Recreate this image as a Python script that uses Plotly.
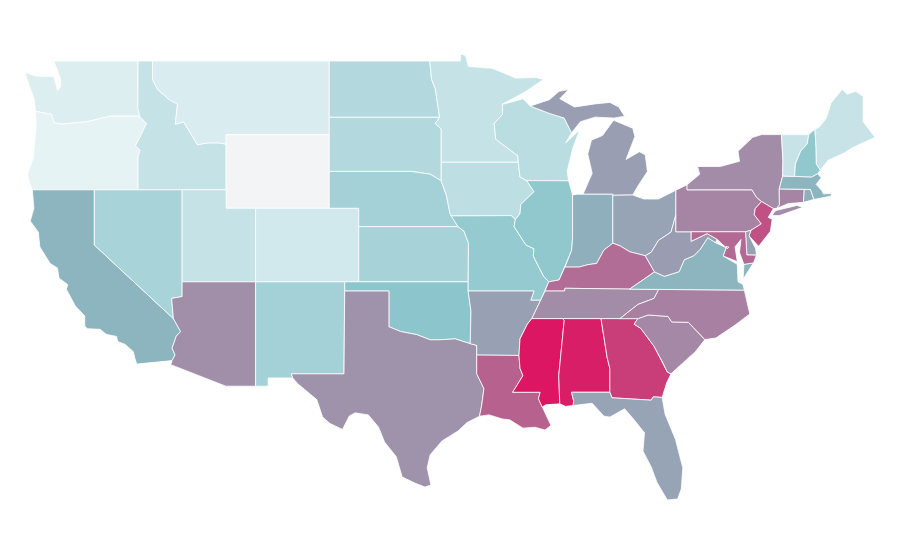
import plotly.graph_objects as go
from plotly.colors import sample_colorscale

# state values, estimated from the fill colours in the picture
states = ["WA", "OR", "CA", "ID", "NV", "MT", "WY", "UT", "AZ", "CO", "NM", "ND", "SD", "NE", "KS", "OK", "TX",
          "MN", "IA", "MO", "AR", "LA", "WI", "IL", "MI", "IN", "OH", "KY", "TN", "MS", "AL", "GA", "FL",
          "SC", "NC", "VA", "WV", "PA", "NY", "NJ", "DE", "MD", "DC", "CT", "RI", "MA", "VT", "NH", "ME"]
values = [0.09, 0.05, 0.50, 0.18, 0.29, 0.10, 0.0, 0.18, 0.69, 0.13, 0.31, 0.25, 0.25, 0.31, 0.30, 0.40, 0.67,
          0.18, 0.21, 0.36, 0.60, 0.81, 0.22, 0.38, 0.61, 0.53, 0.58, 0.78, 0.70, 1.0, 0.98, 0.90, 0.58,
          0.71, 0.73, 0.50, 0.62, 0.72, 0.70, 0.85, 0.60, 0.79, 0.60, 0.72, 0.53, 0.50, 0.17, 0.38, 0.17]

scale = [[0, "#f3f4f6"], [0.05, "#e6f3f5"], [0.4, "#8cc5cc"], [0.5, "#8cb5c0"],
         [0.6, "#98a0b3"], [0.7, "#a28ca8"], [1, "#dc1662"]]

# rough state outlines as lon, lat pairs, typed by hand (no map files without network)
outlines = {
    "WA": [[(-124.7,48.38),(-123.9,48.17),(-122.75,48.15),(-122.5,47.4),(-122.3,47.6),(-122.3,48.0),(-122.5,48.5),(-122.76,49),(-117.03,49),(-117.04,46.42),(-116.92,46),(-118.98,46),(-119.3,45.93),(-120.5,45.7),(-121.2,45.65),(-122.2,45.57),(-122.75,45.65),(-122.9,46.1),(-123.3,46.15),(-124,46.27),(-124.05,46.7),(-124.1,47),(-124.4,47.6)]],
    "OR": [[(-124,46.27),(-123.3,46.15),(-122.9,46.1),(-122.75,45.65),(-122.2,45.57),(-121.2,45.65),(-120.5,45.7),(-119.3,45.93),(-118.98,46),(-116.92,46),(-116.46,45.6),(-116.85,44.95),(-117.2,44.4),(-116.9,44.15),(-117.03,43.8),(-117.03,42),(-124.21,42),(-124.4,42.4),(-124.55,42.84),(-124.15,43.7),(-124.05,44.7),(-123.95,45.5)]],
    "CA": [[(-124.21,42),(-120,42),(-120,39),(-114.63,35),(-114.14,34.3),(-114.43,34.05),(-114.72,33.4),(-114.52,33.03),(-114.72,32.72),(-117.12,32.53),(-117.25,32.85),(-117.35,33.2),(-117.9,33.6),(-118.4,33.75),(-118.5,34.03),(-119.2,34.15),(-119.6,34.42),(-120.47,34.45),(-120.65,34.6),(-120.65,35.15),(-121.3,35.7),(-121.9,36.6),(-121.8,36.85),(-122.4,37.2),(-122.5,37.75),(-123,38),(-123.7,38.9),(-123.8,39.7),(-124.35,40.3),(-124.1,41)]],
    "ID": [[(-117.03,49),(-116.05,49),(-116.05,48),(-115.7,47.45),(-114.9,46.9),(-114.35,46.65),(-114.5,45.56),(-113.95,45.7),(-113.45,45.05),(-113,44.45),(-112.3,44.55),(-111.5,44.55),(-111.05,44.48),(-111.05,42),(-117.03,42),(-117.03,43.8),(-116.9,44.15),(-117.2,44.4),(-116.85,44.95),(-116.46,45.6),(-116.92,46),(-117.04,46.42)]],
    "NV": [[(-120,42),(-114.04,42),(-114.04,36.2),(-114.75,36.1),(-114.63,35),(-120,39)]],
    "MT": [[(-116.05,49),(-104.05,49),(-104.05,45),(-111.05,45),(-111.05,44.48),(-111.5,44.55),(-112.3,44.55),(-113,44.45),(-113.45,45.05),(-113.95,45.7),(-114.5,45.56),(-114.35,46.65),(-114.9,46.9),(-115.7,47.45),(-116.05,48)]],
    "WY": [[(-111.05,45),(-104.05,45),(-104.05,41),(-111.05,41)]],
    "UT": [[(-114.04,42),(-111.05,42),(-111.05,41),(-109.05,41),(-109.05,37),(-114.04,37)]],
    "AZ": [[(-114.04,37),(-109.05,37),(-109.05,31.33),(-111.07,31.33),(-114.81,32.5),(-114.72,32.72),(-114.52,33.03),(-114.72,33.4),(-114.43,34.05),(-114.14,34.3),(-114.63,35),(-114.75,36.1),(-114.04,36.2)]],
    "CO": [[(-109.05,41),(-102.05,41),(-102.05,37),(-109.05,37)]],
    "NM": [[(-109.05,37),(-103,37),(-103.05,32),(-106.62,32),(-106.53,31.78),(-108.2,31.78),(-108.2,31.33),(-109.05,31.33)]],
    "ND": [[(-104.05,49),(-97.23,49),(-97.1,48),(-96.85,47.5),(-96.56,45.94),(-104.05,45.94)]],
    "SD": [[(-104.05,45.94),(-96.56,45.94),(-96.85,45.6),(-96.45,45.3),(-96.45,43.5),(-96.45,42.49),(-97.2,42.85),(-98.5,43),(-104.05,43)]],
    "NE": [[(-104.05,43),(-98.5,43),(-97.2,42.85),(-96.45,42.49),(-96.1,41.7),(-95.85,40.7),(-95.31,40),(-102.05,40),(-102.05,41),(-104.05,41)]],
    "KS": [[(-102.05,40),(-95.31,40),(-94.9,39.75),(-94.6,39.1),(-94.62,37),(-102.05,37)]],
    "OK": [[(-103,37),(-94.62,37),(-94.62,36.5),(-94.43,35.4),(-94.48,33.64),(-95.5,33.9),(-96.6,33.85),(-97.2,33.85),(-98.1,34.13),(-99.2,34.3),(-100,34.56),(-100,36.5),(-103,36.5)]],
    "TX": [[(-103,36.5),(-100,36.5),(-100,34.56),(-99.2,34.3),(-98.1,34.13),(-97.2,33.85),(-96.6,33.85),(-95.5,33.9),(-94.48,33.64),(-94.04,33.55),(-94.04,32),(-93.55,31.2),(-93.7,30.3),(-93.85,29.7),(-94.7,29.35),(-95.3,28.9),(-96.4,28.35),(-97.2,27.6),(-97.4,26.9),(-97.15,25.96),(-97.55,25.85),(-98.2,26.05),(-99.1,26.4),(-99.5,27.5),(-100.3,28.3),(-100.7,29.1),(-101.4,29.77),(-102.3,29.88),(-102.7,29.7),(-103.15,28.98),(-104,29.3),(-104.5,29.65),(-104.9,30.6),(-106.2,31.47),(-106.53,31.78),(-106.62,32),(-103.05,32)]],
    "MN": [[(-97.23,49),(-95.15,49),(-95.15,49.38),(-94.8,49.3),(-94.6,48.7),(-93,48.6),(-92.2,48.35),(-91.4,48.07),(-90,48.1),(-89.5,48),(-90.8,47.3),(-92.05,46.75),(-92.3,46.65),(-92.29,46.1),(-92.85,45.6),(-92.75,44.75),(-91.25,43.85),(-91.22,43.5),(-96.45,43.5),(-96.45,45.3),(-96.85,45.6),(-96.56,45.94),(-96.85,47.5),(-97.1,48)]],
    "IA": [[(-96.45,43.5),(-91.22,43.5),(-91.1,42.7),(-90.65,42.5),(-90.15,41.9),(-91.05,41.2),(-91.1,40.7),(-91.42,40.38),(-91.7,40.6),(-95.77,40.58),(-95.85,40.7),(-96.1,41.7),(-96.45,42.49)]],
    "MO": [[(-95.77,40.58),(-91.7,40.6),(-91.42,40.38),(-91.5,40),(-90.7,39),(-90.15,38.8),(-90.2,38.4),(-89.5,37.3),(-89.15,37),(-89.4,36.5),(-89.7,36),(-90.37,36),(-90.15,36.5),(-94.62,36.5),(-94.62,37),(-94.6,39.1),(-94.9,39.75),(-95.31,40)]],
    "AR": [[(-94.62,36.5),(-90.15,36.5),(-90.37,36),(-89.7,36),(-90.3,35),(-90.6,34.7),(-91.1,33.9),(-91.17,33),(-94.04,33.02),(-94.04,33.55),(-94.48,33.64),(-94.43,35.4)]],
    "LA": [[(-94.04,33.02),(-91.17,33),(-91.1,32.3),(-90.9,31.9),(-91.6,31),(-89.73,31),(-89.85,30.65),(-89.6,30.2),(-89.4,29.9),(-89,29.2),(-89.4,28.95),(-90.1,29.1),(-90.9,29.05),(-91.8,29.5),(-92.3,29.55),(-93.2,29.77),(-93.85,29.7),(-93.7,30.3),(-93.55,31.2),(-94.04,32)]],
    "WI": [[(-92.3,46.65),(-92,46.7),(-90.9,46.95),(-90.4,46.55),(-89.1,46.15),(-88.1,45.9),(-87.6,45.1),(-88,44.55),(-87.05,45.25),(-87.5,44.3),(-87.9,43),(-87.8,42.49),(-90.65,42.5),(-91.1,42.7),(-91.22,43.5),(-91.25,43.85),(-92.75,44.75),(-92.85,45.6),(-92.29,46.1)]],
    "IL": [[(-90.65,42.5),(-87.8,42.49),(-87.53,41.72),(-87.53,39.35),(-87.6,38.7),(-88.05,37.8),(-88.45,37.1),(-89.15,37),(-89.5,37.3),(-90.2,38.4),(-90.15,38.8),(-90.7,39),(-91.5,40),(-91.42,40.38),(-91.1,40.7),(-91.05,41.2),(-90.15,41.9)]],
    "MI": [[(-86.82,41.76),(-84.8,41.76),(-84.8,41.7),(-83.45,41.72),(-83.1,42.2),(-82.45,43),(-82.6,43.9),(-83,44.07),(-83.9,43.65),(-83.3,44.9),(-83.45,45.35),(-84.75,45.78),(-85.5,44.95),(-86.25,44.7),(-86.5,43.95),(-86.2,42.9)],
           [(-90.4,46.55),(-89.1,46.9),(-88.45,47.35),(-87.8,47.45),(-88.4,46.95),(-87.4,46.5),(-86,46.67),(-85,46.75),(-84.4,46.5),(-84,46),(-84.7,45.9),(-86,45.95),(-87,45.7),(-87.6,45.1),(-88.1,45.9),(-89.1,46.15)]],
    "IN": [[(-87.53,41.72),(-87.2,41.76),(-84.8,41.76),(-84.8,39.1),(-85.4,38.73),(-85.9,38),(-86.5,37.93),(-87.1,37.8),(-88.05,37.8),(-87.6,38.7),(-87.53,39.35)]],
    "OH": [[(-84.8,41.7),(-83.45,41.72),(-82.7,41.5),(-81.7,41.5),(-80.52,41.98),(-80.52,40.64),(-80.85,39.7),(-81.7,39.25),(-82.2,38.6),(-82.6,38.42),(-83.65,38.63),(-84.3,38.95),(-84.8,39.1)]],
    "KY": [[(-89.4,36.5),(-89.15,37),(-88.45,37.1),(-88.05,37.8),(-87.1,37.8),(-86.5,37.93),(-85.9,38),(-85.4,38.73),(-84.8,39.1),(-84.3,38.95),(-83.65,38.63),(-82.6,38.42),(-81.97,37.54),(-83.67,36.6),(-88.05,36.65),(-88.07,36.5)]],
    "TN": [[(-89.4,36.5),(-88.07,36.5),(-88.05,36.65),(-83.67,36.6),(-81.68,36.59),(-82,36.1),(-83.1,35.77),(-84.32,35),(-90.3,35),(-89.7,36)]],
    "MS": [[(-91.17,33),(-91.1,33.9),(-90.6,34.7),(-90.3,35),(-88.2,35),(-88.1,34.9),(-88.47,31.9),(-88.4,30.37),(-89.35,30.32),(-89.6,30.2),(-89.85,30.65),(-89.73,31),(-91.6,31),(-90.9,31.9),(-91.1,32.3)]],
    "AL": [[(-88.2,35),(-85.6,35),(-85.18,32.87),(-85,32.3),(-85,31),(-87.6,31),(-87.45,30.5),(-87.5,30.28),(-88,30.23),(-88.4,30.37),(-88.47,31.9),(-88.1,34.9)]],
    "GA": [[(-85.6,35),(-83.1,35),(-83.35,34.7),(-82.9,34.47),(-82,33.5),(-81.4,32.6),(-81.1,32.1),(-80.85,32),(-81.15,31.5),(-81.45,30.72),(-82.05,30.75),(-82.2,30.57),(-84.86,30.7),(-85,31),(-85,32.3),(-85.18,32.87)]],
    "FL": [[(-87.6,31),(-85,31),(-84.86,30.7),(-82.2,30.57),(-82.05,30.75),(-81.45,30.72),(-81.25,29.8),(-80.55,28.45),(-80.05,26.9),(-80.15,25.75),(-80.4,25.2),(-81.1,25.15),(-81.8,26.1),(-82.2,26.95),(-82.75,27.8),(-82.65,28.8),(-83.4,29.55),(-84,30.1),(-85,29.65),(-85.4,29.7),(-86.2,30.4),(-87.5,30.28),(-87.45,30.5)]],
    "SC": [[(-83.35,34.7),(-83.1,35),(-82.4,35.2),(-81.05,35.12),(-80.8,34.82),(-79.67,34.8),(-78.55,33.86),(-79.2,33.2),(-79.9,32.7),(-80.85,32),(-81.1,32.1),(-81.4,32.6),(-82,33.5),(-82.9,34.47)]],
    "NC": [[(-84.32,35),(-83.1,35.77),(-82,36.1),(-81.68,36.59),(-75.87,36.55),(-75.5,35.25),(-76.5,34.65),(-77.8,33.95),(-78.55,33.86),(-79.67,34.8),(-80.8,34.82),(-81.05,35.12),(-82.4,35.2),(-83.1,35)]],
    "VA": [[(-83.67,36.6),(-81.97,37.54),(-81.3,37.3),(-80.3,37.55),(-79.95,38.2),(-79.3,38.42),(-78.87,38.77),(-78.35,39.4),(-77.83,39.13),(-77.1,38.85),(-77.3,38.4),(-76.35,37.95),(-76.3,37),(-75.97,36.85),(-75.87,36.55),(-81.68,36.59)],
           [(-75.9,37.95),(-75.25,38.03),(-75.95,37.15)]],
    "WV": [[(-82.6,38.42),(-82.2,38.6),(-81.7,39.25),(-80.85,39.7),(-80.52,40.64),(-80.52,39.72),(-79.48,39.72),(-79.48,39.2),(-78.4,39.62),(-77.73,39.32),(-77.83,39.13),(-78.35,39.4),(-78.87,38.77),(-79.3,38.42),(-79.95,38.2),(-80.3,37.55),(-81.3,37.3),(-81.97,37.54)]],
    "PA": [[(-80.52,41.98),(-79.76,42.27),(-79.76,42),(-75.35,42),(-75.05,41.6),(-74.7,41.36),(-75.13,40.98),(-75.2,40.65),(-74.72,40.15),(-75.42,39.8),(-75.79,39.72),(-80.52,39.72),(-80.52,40.64)]],
    "NY": [[(-79.76,42),(-79.76,42.27),(-78.9,42.85),(-79.05,43.27),(-77.5,43.27),(-76.2,43.55),(-76.3,44.1),(-75.3,44.85),(-74.7,45),(-73.35,45),(-73.25,43.6),(-73.27,42.75),(-73.5,42.05),(-73.49,41.2),(-73.65,41),(-73.9,40.98),(-74.7,41.36),(-75.05,41.6),(-75.35,42)],
           [(-74,40.6),(-73.75,40.87),(-72.3,41.15),(-71.9,41.05),(-73.5,40.6)]],
    "NJ": [[(-74.7,41.36),(-73.9,40.98),(-74.25,40.5),(-73.98,40.4),(-74.1,39.75),(-74.9,38.93),(-75.55,39.5),(-75.42,39.8),(-74.72,40.15),(-75.2,40.65),(-75.13,40.98)]],
    "DE": [[(-75.79,39.72),(-75.42,39.8),(-75.55,39.5),(-75.1,38.8),(-75.05,38.45),(-75.7,38.46)]],
    "MD": [[(-79.48,39.72),(-75.79,39.72),(-75.7,38.46),(-75.05,38.45),(-75.25,38.03),(-75.9,37.95),(-76.2,38.6),(-76.1,39.3),(-76.5,38.9),(-76.35,38.1),(-77.3,38.4),(-77.1,38.85),(-77.73,39.32),(-78.4,39.62),(-79.48,39.2)]],
    "DC": [[(-77.12,38.93),(-76.91,38.89),(-77.04,38.79)]],
    "CT": [[(-73.5,42.05),(-71.8,42.02),(-71.86,41.32),(-72.9,41.25),(-73.65,41),(-73.49,41.2)]],
    "RI": [[(-71.8,42.02),(-71.38,42.02),(-71.15,41.48),(-71.86,41.32)]],
    "MA": [[(-73.5,42.05),(-73.27,42.75),(-71.3,42.7),(-70.9,42.88),(-70.65,42.65),(-71,42.3),(-70.6,41.95),(-70.5,41.78),(-70,41.8),(-70,42.05),(-69.95,41.67),(-70.65,41.55),(-71.15,41.48),(-71.38,42.02),(-71.8,42.02)]],
    "VT": [[(-73.35,45),(-71.5,45),(-71.6,44.5),(-72.05,44.1),(-72.4,43.4),(-72.46,42.73),(-73.27,42.75),(-73.25,43.6)]],
    "NH": [[(-71.5,45),(-71.08,45.3),(-71,44.3),(-70.98,43.4),(-70.7,43.07),(-70.9,42.88),(-71.3,42.7),(-72.46,42.73),(-72.4,43.4),(-72.05,44.1),(-71.6,44.5)]],
    "ME": [[(-71.08,45.3),(-70.8,45.4),(-70.3,45.9),(-70,46.7),(-69.23,47.46),(-68.9,47.2),(-68.3,47.35),(-67.8,47.07),(-67.8,45.7),(-67.45,45.3),(-67,44.85),(-68.5,44.3),(-69.1,44),(-70.2,43.6),(-70.7,43.07),(-70.98,43.4),(-71,44.3)]],
}

fig = go.Figure()
fills = sample_colorscale(scale, values)
for state, fill in zip(states, fills):
    lons, lats = [], []
    for ring in outlines[state]:
        # close the ring, None starts the next piece of the state
        lons += [p[0] for p in ring] + [ring[0][0], None]
        lats += [p[1] for p in ring] + [ring[0][1], None]
    fig.add_trace(go.Scatter(x=lons, y=lats, name=state, mode="lines", fill="toself",
                             fillcolor=fill, line=dict(color="white", width=0.8), hoverinfo="name"))

# plain lon/lat axes: the reference map is straight lat/lon, stretched vertically
fig.update_xaxes(range=[-125.86, -64.76], visible=False)
fig.update_yaxes(range=[21.45, 51.88], visible=False)
fig.update_layout(width=900, height=560, margin=dict(l=0, r=0, t=0, b=0), showlegend=False,
                  paper_bgcolor="white", plot_bgcolor="white")

fig.write_html("out.html")
